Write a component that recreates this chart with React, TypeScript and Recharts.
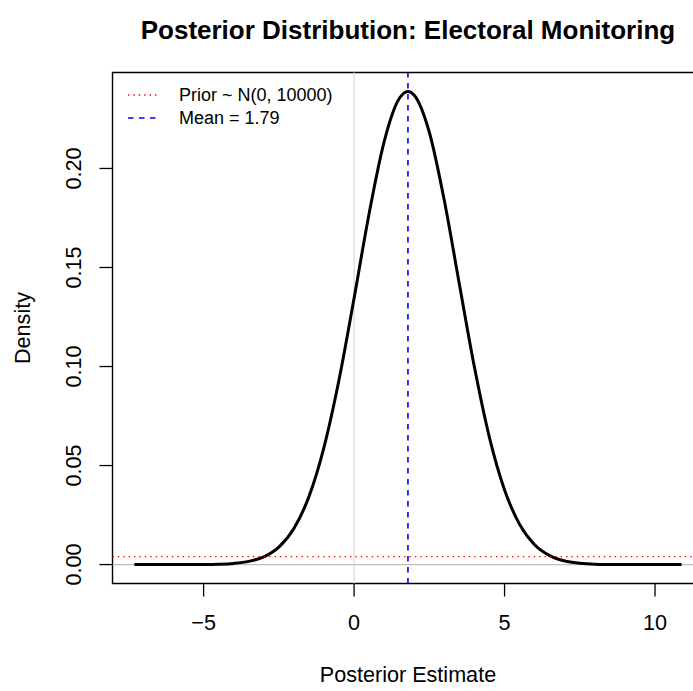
import React from 'react';
import {
  ComposedChart,
  Line,
  XAxis,
  YAxis,
  ReferenceLine,
  ReferenceArea,
} from 'recharts';

// posterior density
const estimates = [
  -7.3, -6, -5, -4.5, -4, -3.5, -3, -2.5, -2, -1.5, -1, -0.5, 0, 0.5, 1, 1.5, 1.79,
  2, 2.5, 3, 3.5, 4, 4.5, 5, 5.5, 6, 6.5, 7, 7.5, 8, 8.5, 9, 9.5, 10.88,
];
const densities = [
  0, 0.00001, 0.00006, 0.0002, 0.0006, 0.0016, 0.0039, 0.0088, 0.0182, 0.0343, 0.0592,
  0.0933, 0.1345, 0.1773, 0.2136, 0.2353, 0.2389, 0.237, 0.2183, 0.1837, 0.1414, 0.0996,
  0.064, 0.0377, 0.0203, 0.01, 0.0045, 0.0018, 0.0007, 0.0002, 0.00007, 0.00002, 0, 0,
];

const xTicks = [-5, 0, 5, 10];
const yTicks = [0, 0.05, 0.1, 0.15, 0.2];
const yTickLabels = ['0.00', '0.05', '0.10', '0.15', '0.20'];

const priorDensity = 0.00399;
const posteriorMean = 1.79;
const legendLabels = ['Prior ~ N(0, 10000)', 'Mean = 1.79'];

const data = estimates.map((x, i) => ({ x, density: densities[i] }));

const FONT = '"Liberation Sans", Arial, Helvetica, sans-serif';
const PLOT_LEFT = 112.5;
const PLOT_TOP = 72.5;
const PLOT_BOTTOM = 583.5;
const PLOT_RIGHT = 703.4;
const CHART_W = 720;
const CHART_H = 691;
const X_DOMAIN: [number, number] = [-8.027, 11.607];
const Y_DOMAIN: [number, number] = [-0.009556, 0.248456];

const XTick = (props: any) => {
  const { x, payload } = props;
  const v = payload.value;
  const label = v < 0 ? '\u2212' + Math.abs(v) : String(v);
  return (
    <text x={x} y={630} textAnchor="middle" fontSize={21.6} fontFamily={FONT} fill="#000">
      {label}
    </text>
  );
};

const YTick = (props: any) => {
  const { y, payload } = props;
  const idx = yTicks.indexOf(payload.value);
  const bx = 81.5;
  return (
    <text
      x={bx}
      y={y}
      transform={`rotate(-90, ${bx}, ${y})`}
      textAnchor="middle"
      fontSize={21.6}
      fontFamily={FONT}
      fill="#000"
    >
      {idx >= 0 ? yTickLabels[idx] : payload.value}
    </text>
  );
};

export default function App() {
  const midX = (PLOT_LEFT + PLOT_RIGHT) / 2;
  const midY = (PLOT_TOP + PLOT_BOTTOM) / 2;
  return (
    <div
      style={{
        position: 'absolute',
        left: 0,
        top: 0,
        width: 693,
        height: 691,
        overflow: 'hidden',
        background: '#fff',
      }}
    >
      <ComposedChart
        width={CHART_W}
        height={CHART_H}
        data={data}
        margin={{
          top: PLOT_TOP,
          right: CHART_W - PLOT_RIGHT,
          bottom: CHART_H - PLOT_BOTTOM - 60,
          left: PLOT_LEFT - 60,
        }}
      >
        <XAxis
          dataKey="x"
          type="number"
          domain={X_DOMAIN}
          allowDataOverflow
          ticks={xTicks}
          axisLine={false}
          tickSize={13}
          tickLine={{ stroke: '#000', strokeWidth: 1.3 }}
          tick={<XTick />}
          height={60}
        />
        <YAxis
          type="number"
          domain={Y_DOMAIN}
          allowDataOverflow
          ticks={yTicks}
          axisLine={false}
          tickSize={13}
          tickLine={{ stroke: '#000', strokeWidth: 1.3 }}
          tick={<YTick />}
          width={60}
        />
        <ReferenceLine x={0} stroke="#dcdcdc" strokeWidth={1.3} />
        <ReferenceLine y={0} stroke="#bebebe" strokeWidth={1.3} />
        <Line
          dataKey="density"
          type="monotone"
          stroke="#000"
          strokeWidth={3}
          dot={false}
          isAnimationActive={false}
        />
        <ReferenceLine y={priorDensity} stroke="#ff0000" strokeWidth={1.4} strokeDasharray="1.4 4" />
        <ReferenceLine x={posteriorMean} stroke="#0000ff" strokeWidth={1.6} strokeDasharray="5.5 5.5" />
        <ReferenceArea
          x1={X_DOMAIN[0]}
          x2={X_DOMAIN[1]}
          y1={Y_DOMAIN[0]}
          y2={Y_DOMAIN[1]}
          fill="none"
          fillOpacity={0}
          stroke="#000"
          strokeWidth={1.4}
          ifOverflow="visible"
        />
      </ComposedChart>
      <svg
        width={693}
        height={691}
        style={{ position: 'absolute', left: 0, top: 0, pointerEvents: 'none' }}
      >
        <text x={midX} y={39} textAnchor="middle" fontSize={26} fontWeight="bold" fontFamily={FONT}>
          Posterior Distribution: Electoral Monitoring
        </text>
        <text x={midX} y={681.5} textAnchor="middle" fontSize={21.6} fontFamily={FONT}>
          Posterior Estimate
        </text>
        <text
          x={30}
          y={midY}
          transform={`rotate(-90, 30, ${midY})`}
          textAnchor="middle"
          fontSize={21.6}
          fontFamily={FONT}
        >
          Density
        </text>
        <line x1={128} x2={160} y1={95} y2={95} stroke="#ff0000" strokeWidth={1.4} strokeDasharray="1.4 4" />
        <line x1={128} x2={160} y1={118} y2={118} stroke="#0000ff" strokeWidth={1.6} strokeDasharray="5.5 5.5" />
        <text x={179} y={95} dominantBaseline="central" fontSize={18} fontFamily={FONT}>
          {legendLabels[0]}
        </text>
        <text x={179} y={118} dominantBaseline="central" fontSize={18} fontFamily={FONT}>
          {legendLabels[1]}
        </text>
      </svg>
    </div>
  );
}
